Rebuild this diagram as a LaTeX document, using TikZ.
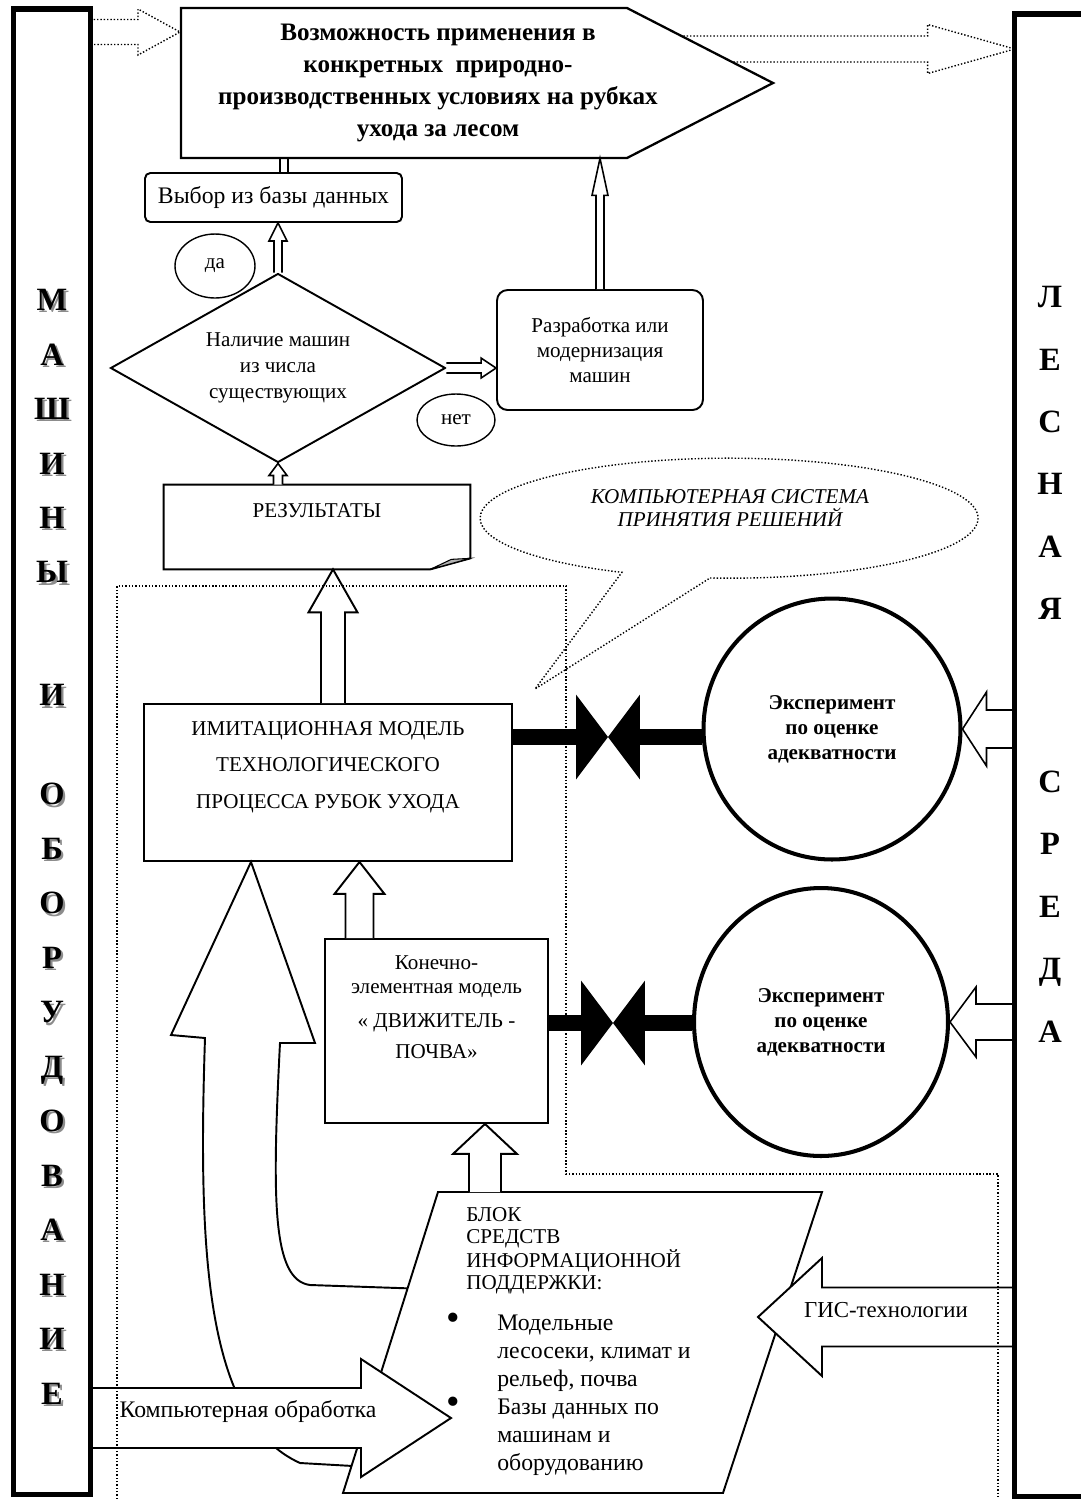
\documentclass[tikz,border=0pt]{standalone}
\usepackage{fontspec}
\setmainfont{Liberation Serif}
\usetikzlibrary{shapes.geometric, arrows.meta, calc, positioning}

\newcommand{\shd}[1]{\rlap{\hspace{1.3pt}\raisebox{-1.3pt}{\textcolor{black!45}{#1}}}#1}
\newcommand{\toptext}[4]{\parbox[c][#2][t]{#1}{\centering\rule{0pt}{#3}#4}}

\begin{document}
\begin{tikzpicture}[x=0.02cm, y=0.02cm,
  box/.style={draw, line width=1.1pt, inner sep=0pt, fill=white},
  outline/.style={line width=1.1pt},
  frame/.style={line width=3.1pt},
  side/.style={font=\fontsize{18.5}{31}\selectfont\bfseries, align=center, inner sep=0pt, anchor=north},
  oval/.style={ellipse, draw, line width=0.8pt, inner sep=0pt, font=\fontsize{12}{14}\selectfont},
  expt/.style={ellipse, draw, line width=2.3pt, inner sep=0pt, align=center, font=\fontsize{12}{14.2}\selectfont\bfseries},
  dots/.style={line width=0.8pt, dash pattern=on 0.8pt off 1.1pt},
  bar/.style={line width=9.1pt, -{Triangle[length=0.64cm, width=1.7cm, line width=0pt]}},
  hollow/.style n args={3}{draw, fill=white, line width=0.9pt, to path={
    let \p1=(\tikztostart), \p2=(\tikztotarget), \n1={atan2(\y2-\y1,\x2-\x1)} in
    ($(\p1)+(\n1+90:#1)$) -- ($(\p2)+(\n1+180:#3)+(\n1+90:#1)$)
    -- ($(\p2)+(\n1+180:#3)+(\n1+90:#2)$) -- (\p2)
    -- ($(\p2)+(\n1+180:#3)+(\n1-90:#2)$) -- ($(\p2)+(\n1+180:#3)+(\n1-90:#1)$)
    -- ($(\p1)+(\n1-90:#1)$)}}]
  \useasboundingbox (0,0) rectangle (1080,-1499);

  % side columns
  \node[inner sep=0pt, minimum width=1.52cm, minimum height=29.7cm] (mach) at (52,-751.5) {};
  \node[side] (machtxt) at (52,-289) {\shd{М}\\\shd{А}\\\shd{Ш}\\\shd{И}\\\shd{Н}\\\shd{Ы}\\[39pt]\shd{И}\\[25.3pt]\shd{О}\\\shd{Б}\\\shd{О}\\\shd{Р}\\\shd{У}\\\shd{Д}\\\shd{О}\\\shd{В}\\\shd{А}\\\shd{Н}\\\shd{И}\\\shd{Е}};
  \node[inner sep=0pt, minimum width=1.6cm, minimum height=29.64cm] (env) at (1055,-755) {};
  \node[side, font=\fontsize{18.5}{35.5}\selectfont\bfseries] (envtxt) at (1050,-286) {Л\\Е\\С\\Н\\А\\Я\\[63pt]С\\Р\\Е\\Д\\А};

  % top goal
  \coordinate (ld) at (180,-32);
  \coordinate (rd) at (660,-49);
  \draw[hollow={12.5}{23}{42}, dots] (mach.east |- ld) to (ld);
  \draw[hollow={13}{24.5}{87}, dots] (rd) to (env.west |- rd);
  \draw[box, line width=1.3pt] (181,-8) -- (627,-8) -- (773,-83) -- (627,-158) -- (181,-158) -- cycle;
  \node[inner sep=0pt, minimum width=10.28cm, minimum height=3cm, align=center,
    font=\fontsize{14.3}{18.2}\selectfont\bfseries] (goal) at (438,-83)
    {Возможность применения в\\конкретных~ природно-\\производственных условиях на рубках\\ухода за лесом};

  % decision
  \node[box, rounded corners=3pt, minimum width=5.14cm, minimum height=0.98cm,
    font=\fontsize{13.5}{16}\selectfont] (sel) at (273.5,-197.5) {Выбор из базы данных};
  \draw[line width=0.9pt] (sel.north -| 280,0) -- (goal.south -| 280,0)
    (sel.north -| 288,0) -- (goal.south -| 288,0);
  \node[oval, minimum width=1.6cm, minimum height=1.28cm] (yes) at (215,-266) {да};
  \node[diamond, aspect=1.77, draw, line width=1.1pt, inner sep=0pt, minimum width=6.7cm, minimum height=3.78cm,
    align=center, font=\fontsize{12}{14.8}\selectfont] (dia) at (278,-368) {Наличие машин\\из числа\\существующих};
  \node[oval, minimum width=1.56cm, minimum height=1.04cm] (no) at (456,-420) {нет};
  \node[box, rounded corners=6pt, minimum width=4.12cm, minimum height=2.4cm, align=center,
    font=\fontsize{12}{14.2}\selectfont] (dev) at (600,-350) {Разработка или\\модернизация\\машин};
  \draw[hollow={4}{9}{18}] (dia.north) to (dia.north |- sel.south);
  \draw[hollow={5}{10}{15}] (dia.east) to (dev.west |- dia.east);
  \draw[hollow={4}{8}{37}] (dev.north) to (dev.north |- goal.south);

  % results
  \node[inner sep=0pt, font=\fontsize{12}{14}\selectfont] (res) at (317,-527) {\toptext{6.12cm}{1.68cm}{0.64cm}{РЕЗУЛЬТАТЫ}};
  \draw[outline] (res.north west) -- (res.north east) -- ($(res.south east)+(0,11)$)
    -- ($(res.south east)+(-40,0)$) -- (res.south west) -- cycle;
  \filldraw[fill=black!30, line width=0.6pt] ($(res.south east)+(0,11)$) -- ($(res.south east)+(-40,0)$) -- ($(res.south east)+(-19,10)$) -- cycle;
  \draw[hollow={4.5}{9}{12}] (res.north -| dia.south) to (dia.south);

  % callout
  \node[align=center, font=\fontsize{12}{13}\selectfont\itshape] (cps) at (730,-508) {КОМПЬЮТЕРНАЯ СИСТЕМА\\ПРИНЯТИЯ РЕШЕНИЙ};
  \draw[dots] (710,-578) arc[start angle=265.6, end angle=604.5, x radius=249, y radius=60] -- (535,-689) -- cycle;

  % models
  \node[box, font=\fontsize{12}{21}\selectfont] (imit) at (328,-782.5)
    {\toptext{7.36cm}{3.14cm}{0.62cm}{ИМИТАЦИОННАЯ МОДЕЛЬ\\ТЕХНОЛОГИЧЕСКОГО\\ПРОЦЕССА РУБОК УХОДА}};
  \draw[hollow={12}{24.5}{43}, line width=1.1pt] ($(imit.north)+(5,0)$) to ($(imit.north |- res.south)+(5,0)$);
  \node[box, font=\fontsize{12}{14.2}\selectfont] (kon) at (436.5,-1031)
    {\toptext{4.46cm}{3.68cm}{0.6cm}{Конечно-\\элементная модель\\[5pt]«~ДВИЖИТЕЛЬ~-\\[3.5pt]ПОЧВА»}};
  \draw[hollow={14}{25}{32}, line width=1.1pt] ($(kon.north)+(-77,0)$) to ($(kon.north |- imit.south)+(-77,0)$);

  % experiments
  \node[expt, minimum width=5.14cm, minimum height=5.22cm] (exp1) at (832,-729) {Эксперимент\\по оценке\\адекватности};
  \node[expt, minimum width=5.08cm, minimum height=5.36cm] (exp2) at (821,-1022) {Эксперимент\\по оценке\\адекватности};
  \coordinate (v1) at (608,-737);
  \coordinate (v2) at (613,-1023);
  \draw[bar] (imit.east |- v1) -- (v1);
  \draw[bar] (exp1.west |- v1) -- (v1);
  \draw[bar] (kon.east |- v2) -- (v2);
  \draw[bar] (exp2.west |- v2) -- (v2);
  \draw[hollow={19}{37}{24}] (env.west |- exp1.east) to (exp1.east);
  \draw[hollow={18}{35}{26}] (env.west |- exp2.east) to (exp2.east);

  % information block
  \coordinate (blk1) at (438,-1192);
  \coordinate (blk2) at (822,-1192);
  \coordinate (blk3) at (723,-1493);
  \coordinate (blk4) at (343,-1493);
  \draw[box] ($(blk4)!0.68!(blk1)$) -- (310,-1285) .. controls (272,-1280) and (272,-1200) .. (280,-1043)
    -- (315,-1043) -- (imit.south -| 251,0) -- (171,-1035) -- (205,-1038)
    .. controls (198,-1250) and (205,-1420) .. (300,-1463) -- ($(blk4)!0.09!(blk1)$);
  \draw[outline, fill=white] (blk1) -- (blk2) -- (blk3) -- (blk4) -- cycle;
  \coordinate (blktop) at (485,-1192);
  \draw[hollow={16}{32}{30}, line width=1.1pt] (blktop) to (blktop |- kon.south);
  \coordinate (cpt) at (451,-1418);
  \draw[hollow={30}{59}{90}, line width=1.1pt] (mach.east |- cpt) to (cpt);
  \coordinate (gis) at (758,-1317);
  \draw[hollow={29.5}{59}{64}, line width=1.1pt] (env.west |- gis) to (gis);
  \node[font=\fontsize{13.5}{16}\selectfont] (cptxt) at (248,-1412) {Компьютерная обработка};
  \node[font=\fontsize{13}{16}\selectfont] (gistxt) at (886,-1310) {ГИС-технологии};
  \node[anchor=west, align=left, inner sep=0pt, font=\fontsize{12}{12.6}\selectfont] (blkhead) at (466,-1251)
    {БЛОК\\СРЕДСТВ\\ИНФОРМАЦИОННОЙ\\ПОДДЕРЖКИ:};
  \node[anchor=west, inner sep=0pt, font=\fontsize{13.5}{15.9}\selectfont] (blklist) at (446,-1395)
    {\begin{tabular}{@{}p{1.02cm}@{}l@{}}
      {\fontsize{22}{15.9}\selectfont•} & Модельные\\
      & лесосеки, климат и\\
      & рельеф, почва\\
      {\fontsize{22}{15.9}\selectfont•} & Базы данных по\\
      & машинам и\\
      & оборудованию
    \end{tabular}};

  % dotted frame
  \draw[dots] (117,-1499) -- (117,-586) -- (566,-586) -- (566,-1174) -- (998,-1174) -- (998,-1499);
  \draw[frame] (mach.south west) rectangle (mach.north east);
  \draw[frame] (env.south west) rectangle (env.north east);
\end{tikzpicture}
\end{document}
